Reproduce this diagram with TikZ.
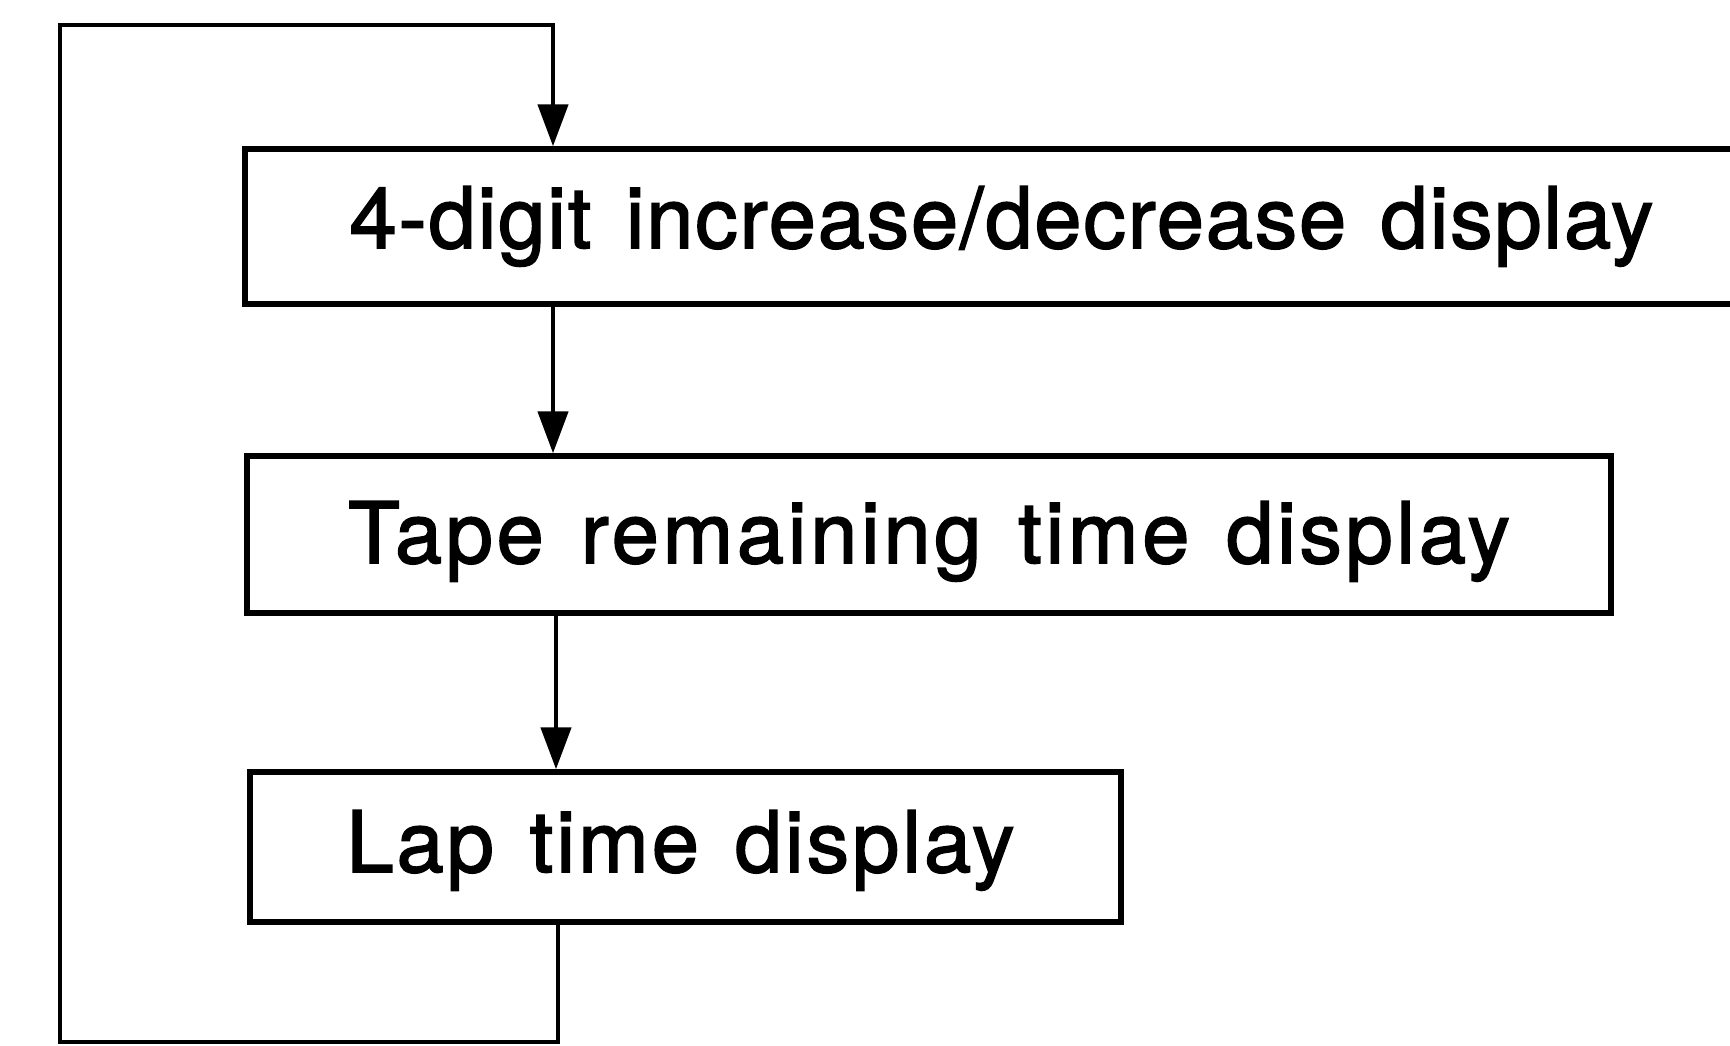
\documentclass[tikz,border=0pt]{standalone}
\usepackage{fontspec}
\setmainfont{TeX Gyre Heros}
\newfontfamily\fA[LetterSpace=2.05,WordSpace=1.35,FakeBold=1.8]{TeX Gyre Heros}
\newfontfamily\fB[LetterSpace=4.2,WordSpace=1.35,FakeBold=1.8]{TeX Gyre Heros}
\newfontfamily\fC[LetterSpace=3.4,WordSpace=1.35,FakeBold=1.8]{TeX Gyre Heros}
\usetikzlibrary{arrows.meta}
\begin{document}
\begin{tikzpicture}[x=0.25pt,y=-0.25pt,
  boxnode/.style={draw,line width=1.35pt,rectangle,inner sep=0pt,align=center,
    font=\fontsize{21.25}{25}\selectfont, text depth=3.5pt},
  arr/.style={line width=1.15pt,-{Triangle[length=10.5pt,width=7.5pt]}}]
\useasboundingbox (0,0) rectangle (1730,1046);
\node[boxnode,minimum width=378.25pt,minimum height=38.75pt,text height=14.25pt]
  (b1) at (1001.5,226.5) {\fA 4-digit increase/decrease display};
\node[boxnode,minimum width=341pt,minimum height=39.25pt,text height=17.75pt]
  (b2) at (929,534.5) {\fB Tape remaining time display};
\node[boxnode,minimum width=217.75pt,minimum height=37.5pt,text height=16pt]
  (b3) at (685.5,847) {\fC Lap time display\kern2.5pt};
\coordinate (a1) at (553,0);
\coordinate (a2) at (556,0);
\coordinate (c1) at (558,1042);
\coordinate (c2) at (60,1042);
\coordinate (c3) at (60,25);
\coordinate (c4) at (553,25);
\draw[arr] (a1 |- b1.south) -- (a1 |- b2.north);
\draw[arr] (a2 |- b2.south) -- (a2 |- b3.north);
\draw[arr] (c1 |- b3.south) -- (c1) -- (c2) -- (c3) -- (c4) -- (c4 |- b1.north);
\end{tikzpicture}
\end{document}
